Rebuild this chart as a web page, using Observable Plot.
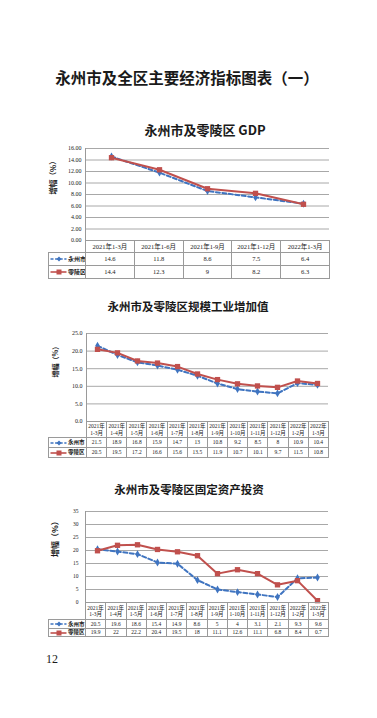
<!DOCTYPE html>
<html><head><meta charset="utf-8">
<script src="https://cdn.jsdelivr.net/npm/d3@7"></script>
<script src="https://cdn.jsdelivr.net/npm/@observablehq/plot@0.6"></script>
<style>
body{margin:0;background:#fff;}
#page{position:relative;width:377px;height:718px;overflow:hidden;background:#fff;font-family:"Noto Sans CJK SC",sans-serif;}
.plotsvg{position:absolute;left:0;overflow:visible;}
.title{position:absolute;white-space:nowrap;text-align:center;font-weight:bold;color:#1a1a1a;line-height:1;transform:translateX(-50%);}
table.t{position:absolute;border-collapse:collapse;table-layout:fixed;font-family:"Liberation Serif","Noto Sans CJK SC",serif;color:#1a1a1a;}
table.t td{border:1px solid #9a9a9a;text-align:center;vertical-align:middle;padding:0;overflow:hidden;white-space:nowrap;line-height:1.15;}
table.t td.blank{border:none;}
table.t td.leg{text-align:left;font-family:"Noto Sans CJK SC",sans-serif;font-weight:bold;}
.sw{display:inline-block;vertical-align:middle;margin:0 1px 0 1px;}
.pageno{position:absolute;font-family:"Liberation Serif",serif;font-size:12px;color:#1a1a1a;line-height:1;}
</style>
</head><body><div id="page"></div>
<script>
// ---------- data ----------
const pageTitle = "永州市及全区主要经济指标图表（一）";
const seriesNames = ["永州市", "零陵区"];
const yLabel = "增幅（%）";
const pageNumber = "12";

const gdpTitle = "永州市及零陵区 GDP";
const gdpCats = ["2021年1-3月", "2021年1-6月", "2021年1-9月", "2021年1-12月", "2022年1-3月"];
const gdpYongzhou = [14.6, 11.8, 8.6, 7.5, 6.4];
const gdpLingling = [14.4, 12.3, 9, 8.2, 6.3];
const gdpTicks = [0, 2, 4, 6, 8, 10, 12, 14, 16];

const indTitle = "永州市及零陵区规模工业增加值";
const monthCats = ["2021年1-3月", "2021年1-4月", "2021年1-5月", "2021年1-6月", "2021年1-7月", "2021年1-8月",
  "2021年1-9月", "2021年1-10月", "2021年1-11月", "2021年1-12月", "2022年1-2月", "2022年1-3月"];
const indYongzhou = [21.5, 18.9, 16.8, 15.9, 14.7, 13, 10.8, 9.2, 8.5, 8, 10.9, 10.4];
const indLingling = [20.5, 19.5, 17.2, 16.6, 15.6, 13.5, 11.9, 10.7, 10.1, 9.7, 11.5, 10.8];
const indTicks = [0, 5, 10, 15, 20, 25];

const invTitle = "永州市及零陵区固定资产投资";
const invYongzhou = [20.5, 19.6, 18.6, 15.4, 14.9, 8.6, 5, 4, 3.1, 2.1, 9.3, 9.6];
const invLingling = [19.9, 22, 22.2, 20.4, 19.5, 18, 11.1, 12.6, 11.1, 6.8, 8.4, 0.7];
const invTicks = [0, 5, 10, 15, 20, 25, 30, 35];

const BLUE = "#3f74c0", RED = "#c0504d", GRID = "#a8a8a8";
const page = document.getElementById("page");

function addTitle(text, cx, cy, size) {
  const d = document.createElement("div");
  d.className = "title";
  d.textContent = text;
  d.style.left = cx + "px";
  d.style.top = (cy - size / 2) + "px";
  d.style.fontSize = size + "px";
  page.appendChild(d);
}

function chart(o) {
  const data = o.cats.map((c, i) => ({c, a: o.a[i], b: o.b[i]}));
  const svg = Plot.plot({
    width: 377, height: o.svgH,
    marginLeft: o.left, marginRight: 377 - o.right,
    marginTop: o.top - o.svgTop, marginBottom: o.svgTop + o.svgH - o.bottom,
    x: {type: "point", domain: o.cats, padding: 0.5, axis: null},
    y: {domain: [0, o.ticks[o.ticks.length - 1]], axis: null},
    style: {fontFamily: "Liberation Serif, serif", fontSize: o.tickFont + "px", color: "#1a1a1a", background: "transparent", overflow: "visible"},
    marks: [
      Plot.ruleY(o.ticks, {stroke: GRID, strokeWidth: 1}),
      Plot.frame({anchor: "left", stroke: "#9a9a9a"}),
      Plot.axisY({ticks: o.ticks, tickFormat: o.fmt, tickSize: 0, tickPadding: o.tickPad, label: null, fontSize: o.tickFont}),
      Plot.text([yLabel], {text: d => d, frameAnchor: "left", rotate: -90, dx: -o.labelDx, fontSize: o.labelFont, fontWeight: "bold", fontFamily: "Noto Sans CJK SC", fill: "#1a1a1a"}),
      Plot.line(data, {x: "c", y: "a", stroke: BLUE, strokeWidth: 2, strokeDasharray: "4,2.5"}),
      Plot.dot(data, {x: "c", y: "a", symbol: "diamond", r: 2.4, fill: BLUE, stroke: "none"}),
      Plot.line(data, {x: "c", y: "b", stroke: RED, strokeWidth: 2}),
      Plot.dot(data, {x: "c", y: "b", symbol: "square", r: 3, fill: RED, stroke: "none"})
    ]
  });
  svg.classList.add("plotsvg");
  svg.style.top = o.svgTop + "px";
  page.appendChild(svg);
}

function swatch(color, dashed, marker) {
  const m = marker === "diamond"
    ? `<path d="M9,0.6 L11.4,3 L9,5.4 L6.6,3Z" fill="${color}"/>`
    : `<rect x="6.5" y="0.5" width="5" height="5" fill="${color}"/>`;
  return `<svg class="sw" width="17" height="6" viewBox="0 0 17 6"><line x1="0.5" y1="3" x2="16.5" y2="3" stroke="${color}" stroke-width="1.6" ${dashed ? 'stroke-dasharray="3,1.6"' : ""}/>${m}</svg>`;
}

function table(o) {
  const t = document.createElement("table");
  t.className = "t";
  t.style.left = o.left + "px";
  t.style.top = o.top + "px";
  t.style.fontSize = o.font + "px";
  t.style.width = (o.legendW + o.colW * o.cats.length) + "px";
  let h = `<colgroup><col style="width:${o.legendW}px">` + o.cats.map(() => `<col style="width:${o.colW}px">`).join("") + "</colgroup>";
  h += `<tr style="height:${o.rowH[0]}px"><td class="blank"></td>` +
    o.cats.map(c => `<td>${o.twoLine ? c.replace("年", "年<br>") : c}</td>`).join("") + "</tr>";
  h += `<tr style="height:${o.rowH[1]}px"><td class="leg" style="font-size:${o.legFont}px">${swatch(BLUE, true, "diamond")}${seriesNames[0]}</td>` +
    o.a.map(v => `<td>${v}</td>`).join("") + "</tr>";
  h += `<tr style="height:${o.rowH[2]}px"><td class="leg" style="font-size:${o.legFont}px">${swatch(RED, false, "square")}${seriesNames[1]}</td>` +
    o.b.map(v => `<td>${v}</td>`).join("") + "</tr>";
  t.innerHTML = h;
  page.appendChild(t);
}

// ---------- page ----------
addTitle(pageTitle, 187, 78, 15.5);

// Chart 1: GDP
addTitle(gdpTitle, 205, 129, 13);
chart({cats: gdpCats, a: gdpYongzhou, b: gdpLingling, ticks: gdpTicks, fmt: d3.format(".2f"),
  left: 85, right: 329, top: 148, bottom: 240, svgTop: 140, svgH: 104,
  tickFont: 6, tickPad: 4, labelFont: 7.5, labelDx: 32});
table({cats: gdpCats, a: gdpYongzhou, b: gdpLingling, left: 48, top: 240, legendW: 37, colW: 48.8,
  rowH: [12, 13, 13], font: 6.5, legFont: 6, twoLine: false});

// Chart 2: industry
addTitle(indTitle, 188, 307, 11.5);
chart({cats: monthCats, a: indYongzhou, b: indLingling, ticks: indTicks, fmt: d3.format(".1f"),
  left: 86, right: 328, top: 333, bottom: 421, svgTop: 325, svgH: 100,
  tickFont: 6, tickPad: 4, labelFont: 7, labelDx: 31});
table({cats: monthCats, a: indYongzhou, b: indLingling, left: 48, top: 421, legendW: 38, colW: 20.17,
  rowH: [16, 10, 10], font: 5.5, legFont: 5.5, twoLine: true});

// Chart 3: investment
addTitle(invTitle, 189, 490, 11.5);
chart({cats: monthCats, a: invYongzhou, b: invLingling, ticks: invTicks, fmt: d3.format("d"),
  left: 85, right: 328, top: 511, bottom: 602, svgTop: 503, svgH: 103,
  tickFont: 5.5, tickPad: 7, labelFont: 8, labelDx: 30});
table({cats: monthCats, a: invYongzhou, b: invLingling, left: 48, top: 602, legendW: 37, colW: 20.25,
  rowH: [17, 8.5, 8.5], font: 5.5, legFont: 5.5, twoLine: true});

const pn = document.createElement("div");
pn.className = "pageno";
pn.textContent = pageNumber;
pn.style.left = "46px";
pn.style.top = "653px";
page.appendChild(pn);
</script>
</body></html>
